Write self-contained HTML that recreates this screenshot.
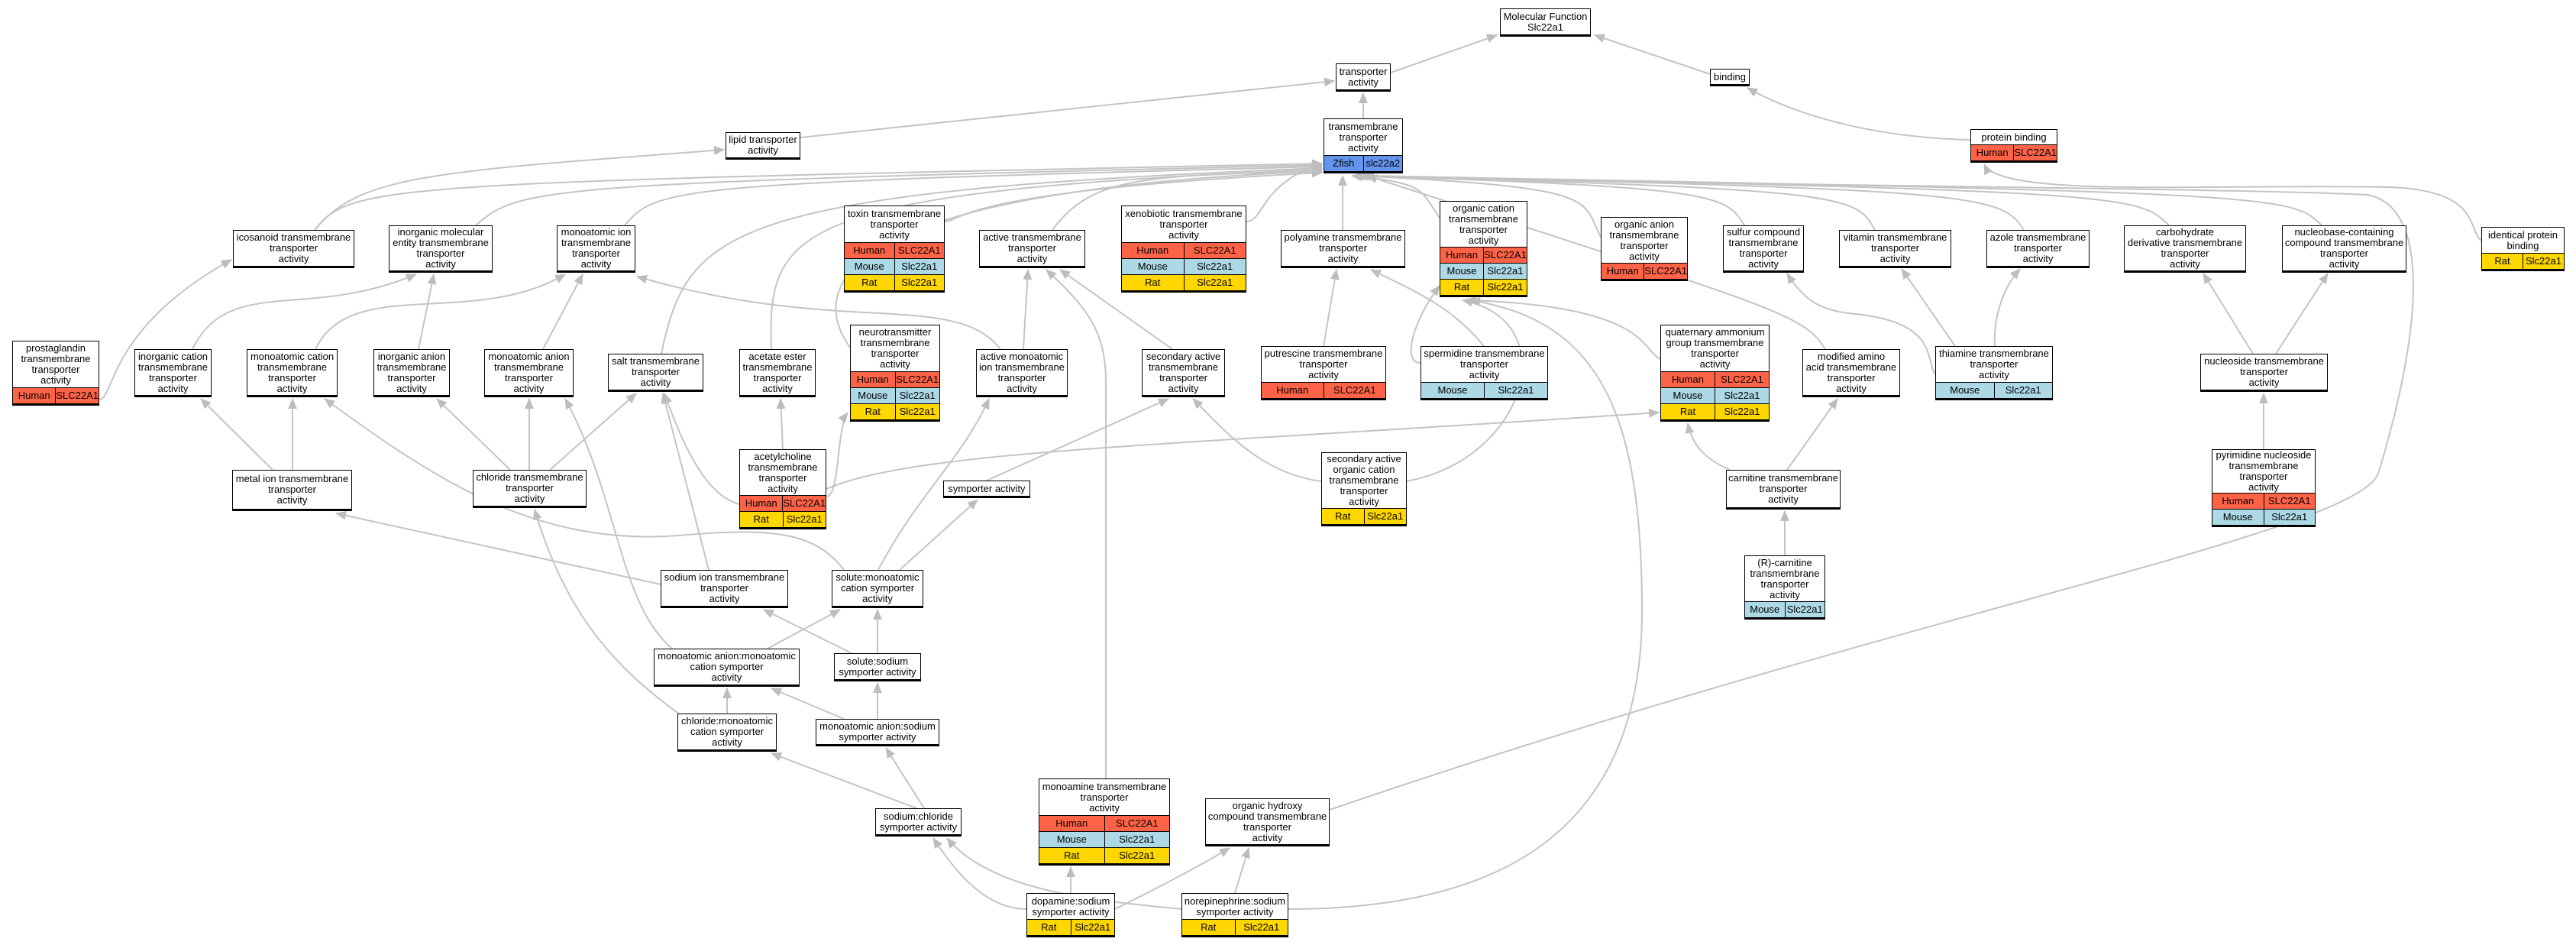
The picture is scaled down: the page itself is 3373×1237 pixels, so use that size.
<!DOCTYPE html>
<html><head><meta charset="utf-8"><style>
body{margin:0;width:3373px;height:1237px;background:#fff;position:relative;overflow:hidden;font-family:"Liberation Sans",Arial,sans-serif;}
svg{position:absolute;left:0;top:0}
.n{position:absolute;box-sizing:border-box;border:1.5px solid #000;border-bottom-width:3px;background:#fff;display:flex;flex-direction:column;font-size:13px;line-height:14px;color:#000}
.h{flex:1;display:flex;align-items:center;justify-content:center;text-align:center;padding:0 2px}
.r{height:21px;display:flex;border-top:1.5px solid #000;box-sizing:border-box}
.r span{flex:1;display:flex;align-items:center;justify-content:center}
.r span+span{border-left:1.5px solid #000}
.H{background:#ff6347}.M{background:#add8e6}.R{background:#ffd700}.Z{background:#6495ed}
</style></head><body>
<svg width="3373" height="1237" viewBox="0 0 3373 1237">
<defs><marker id="a" markerUnits="userSpaceOnUse" markerWidth="14" markerHeight="12" refX="13" refY="6" orient="auto"><path d="M0,0 L14,6 L0,12 z" fill="#bdbdbd"/></marker></defs>
<g fill="none" stroke="#c4c4c4" stroke-width="2" marker-end="url(#a)">
<path d="M1821,95 L1960,46"/>
<path d="M2239,97 L2088,46"/>
<path d="M1785,155 L1785,122"/>
<path d="M1048,180 L1747,106"/>
<path d="M2580,183 C2450,180 2350,150 2288,115"/>
<path d="M412,301 C470,230 560,225 948,196"/>
<path d="M412,301 C460,240 500,240 1731,214"/>
<path d="M623,295 C680,245 700,240 1731,216"/>
<path d="M818,295 C860,245 880,240 1731,218"/>
<path d="M866,463 C900,300 950,250 1731,220"/>
<path d="M1010,457 C1005,300 1030,250 1731,222"/>
<path d="M1113,455 C1060,380 1080,250 1731,224"/>
<path d="M1237,290 C1260,290 1250,250 1731,226"/>
<path d="M1378,301 C1430,230 1500,230 1731,224"/>
<path d="M1632,290 C1655,290 1650,240 1731,214"/>
<path d="M1758,301 L1758,230"/>
<path d="M1885,285 C1860,250 1870,240 1770,230"/>
<path d="M2096,310 C2070,260 2100,245 1772,230"/>
<path d="M2284,295 C2260,255 2250,245 1775,230"/>
<path d="M2455,301 C2430,255 2420,248 1778,230"/>
<path d="M2650,301 C2620,255 2600,248 1780,230"/>
<path d="M2840,295 C2800,255 2790,250 1782,230"/>
<path d="M3040,295 C3000,255 2990,252 1784,230"/>
<path d="M2390,457 C2360,410 2330,405 1790,230"/>
<path d="M1741,1060 C2500,800 3080,700 3114,620 C3175,420 3180,270 3100,255 C2900,245 2000,240 1786,230"/>
<path d="M3249,315 C3230,300 3250,250 3130,245 C2900,240 2620,260 2598,215"/>
<path d="M130,523 C150,523 140,430 303,340"/>
<path d="M252,457 C300,360 400,420 545,359"/>
<path d="M413,457 C460,360 620,430 740,359"/>
<path d="M548,457 L568,359"/>
<path d="M711,457 L763,359"/>
<path d="M357,615 L263,522"/>
<path d="M383,615 L383,522"/>
<path d="M668,615 L572,522"/>
<path d="M693,615 L693,522"/>
<path d="M720,615 L833,515"/>
<path d="M865,765 L440,672"/>
<path d="M928,746 L868,515"/>
<path d="M968,660 C930,650 900,600 870,515"/>
<path d="M1025,588 L1022,522"/>
<path d="M1082,650 C1100,650 1095,560 1110,540"/>
<path d="M1082,640 C1200,590 1500,585 2172,540"/>
<path d="M1310,457 C1250,380 1100,440 834,362"/>
<path d="M1340,457 L1346,353"/>
<path d="M1535,457 L1388,353"/>
<path d="M1150,746 C1200,650 1260,600 1295,522"/>
<path d="M1178,746 L1280,654"/>
<path d="M1105,746 C1070,700 1020,690 900,700 C700,720 560,620 425,522"/>
<path d="M1292,629 L1530,522"/>
<path d="M1448,1019 L1448,500 C1448,430 1420,400 1370,353"/>
<path d="M1733,453 L1750,353"/>
<path d="M1943,453 C1900,400 1850,380 1795,353"/>
<path d="M1860,475 C1835,475 1850,420 1885,374"/>
<path d="M1730,630 C1650,620 1600,560 1562,522"/>
<path d="M1842,630 C2000,600 2050,420 1915,393"/>
<path d="M2174,470 C2150,460 2160,400 1920,393"/>
<path d="M2265,615 C2230,600 2215,580 2210,554"/>
<path d="M2340,615 L2406,522"/>
<path d="M2337,727 L2337,669"/>
<path d="M2534,490 C2520,470 2540,420 2420,410 C2380,405 2360,390 2340,358"/>
<path d="M2612,453 C2610,420 2620,380 2645,352"/>
<path d="M2560,453 L2490,352"/>
<path d="M2950,463 L2885,358"/>
<path d="M2980,463 L3048,358"/>
<path d="M2964,590 L2964,515"/>
<path d="M1200,1058 L1010,986"/>
<path d="M1210,1058 L1160,979"/>
<path d="M952,934 L952,901"/>
<path d="M890,935 C800,870 740,800 700,667"/>
<path d="M1105,941 L1010,901"/>
<path d="M1149,941 L1149,894"/>
<path d="M1005,849 L1100,798"/>
<path d="M880,849 C810,790 810,650 740,522"/>
<path d="M1115,855 L1000,798"/>
<path d="M1149,855 L1149,798"/>
<path d="M1344,1190 C1290,1190 1250,1140 1222,1097"/>
<path d="M1402,1169 L1402,1135"/>
<path d="M1460,1190 C1500,1170 1560,1140 1610,1110"/>
<path d="M1547,1190 C1450,1180 1300,1170 1240,1097"/>
<path d="M1617,1169 L1635,1110"/>
<path d="M1687,1190 C1950,1190 2150,1100 2150,800 C2150,550 2100,420 1925,393"/>
</g>
</svg>

<div class="n" style="left:1964px;top:11px;width:119px;height:37px"><div class="h">Molecular Function<br>Slc22a1</div></div>
<div class="n" style="left:1749px;top:83px;width:72px;height:37px"><div class="h">transporter<br>activity</div></div>
<div class="n" style="left:2239px;top:90px;width:52px;height:23px"><div class="h">binding</div></div>
<div class="n" style="left:1733px;top:155px;width:104px;height:72px"><div class="h">transmembrane<br>transporter<br>activity</div><div class="r Z"><span>Zfish</span><span>slc22a2</span></div></div>
<div class="n" style="left:950px;top:173px;width:98px;height:36px"><div class="h">lipid transporter<br>activity</div></div>
<div class="n" style="left:2580px;top:169px;width:114px;height:44px"><div class="h">protein binding</div><div class="r H"><span>Human</span><span>SLC22A1</span></div></div>
<div class="n" style="left:305px;top:301px;width:159px;height:50px"><div class="h">icosanoid transmembrane<br>transporter<br>activity</div></div>
<div class="n" style="left:509px;top:295px;width:136px;height:62px"><div class="h">inorganic molecular<br>entity transmembrane<br>transporter<br>activity</div></div>
<div class="n" style="left:729px;top:295px;width:103px;height:62px"><div class="h">monoatomic ion<br>transmembrane<br>transporter<br>activity</div></div>
<div class="n" style="left:1105px;top:269px;width:132px;height:114px"><div class="h">toxin transmembrane<br>transporter<br>activity</div><div class="r H"><span>Human</span><span>SLC22A1</span></div><div class="r M"><span>Mouse</span><span>Slc22a1</span></div><div class="r R"><span>Rat</span><span>Slc22a1</span></div></div>
<div class="n" style="left:1282px;top:301px;width:139px;height:50px"><div class="h">active transmembrane<br>transporter<br>activity</div></div>
<div class="n" style="left:1468px;top:269px;width:164px;height:114px"><div class="h">xenobiotic transmembrane<br>transporter<br>activity</div><div class="r H"><span>Human</span><span>SLC22A1</span></div><div class="r M"><span>Mouse</span><span>Slc22a1</span></div><div class="r R"><span>Rat</span><span>Slc22a1</span></div></div>
<div class="n" style="left:1677px;top:301px;width:163px;height:50px"><div class="h">polyamine transmembrane<br>transporter<br>activity</div></div>
<div class="n" style="left:1885px;top:263px;width:115px;height:126px"><div class="h">organic cation<br>transmembrane<br>transporter<br>activity</div><div class="r H"><span>Human</span><span>SLC22A1</span></div><div class="r M"><span>Mouse</span><span>Slc22a1</span></div><div class="r R"><span>Rat</span><span>Slc22a1</span></div></div>
<div class="n" style="left:2096px;top:284px;width:114px;height:84px"><div class="h">organic anion<br>transmembrane<br>transporter<br>activity</div><div class="r H"><span>Human</span><span>SLC22A1</span></div></div>
<div class="n" style="left:2256px;top:295px;width:106px;height:62px"><div class="h">sulfur compound<br>transmembrane<br>transporter<br>activity</div></div>
<div class="n" style="left:2408px;top:301px;width:147px;height:50px"><div class="h">vitamin transmembrane<br>transporter<br>activity</div></div>
<div class="n" style="left:2601px;top:301px;width:135px;height:50px"><div class="h">azole transmembrane<br>transporter<br>activity</div></div>
<div class="n" style="left:2781px;top:295px;width:160px;height:62px"><div class="h">carbohydrate<br>derivative transmembrane<br>transporter<br>activity</div></div>
<div class="n" style="left:2988px;top:295px;width:163px;height:62px"><div class="h">nucleobase-containing<br>compound transmembrane<br>transporter<br>activity</div></div>
<div class="n" style="left:3249px;top:297px;width:109px;height:58px"><div class="h">identical protein<br>binding</div><div class="r R"><span>Rat</span><span>Slc22a1</span></div></div>
<div class="n" style="left:16px;top:446px;width:114px;height:85px"><div class="h">prostaglandin<br>transmembrane<br>transporter<br>activity</div><div class="r H"><span>Human</span><span>SLC22A1</span></div></div>
<div class="n" style="left:176px;top:457px;width:101px;height:63px"><div class="h">inorganic cation<br>transmembrane<br>transporter<br>activity</div></div>
<div class="n" style="left:323px;top:457px;width:119px;height:63px"><div class="h">monoatomic cation<br>transmembrane<br>transporter<br>activity</div></div>
<div class="n" style="left:489px;top:457px;width:100px;height:63px"><div class="h">inorganic anion<br>transmembrane<br>transporter<br>activity</div></div>
<div class="n" style="left:634px;top:457px;width:117px;height:63px"><div class="h">monoatomic anion<br>transmembrane<br>transporter<br>activity</div></div>
<div class="n" style="left:796px;top:463px;width:125px;height:50px"><div class="h">salt transmembrane<br>transporter<br>activity</div></div>
<div class="n" style="left:968px;top:457px;width:100px;height:63px"><div class="h">acetate ester<br>transmembrane<br>transporter<br>activity</div></div>
<div class="n" style="left:1113px;top:425px;width:118px;height:127px"><div class="h">neurotransmitter<br>transmembrane<br>transporter<br>activity</div><div class="r H"><span>Human</span><span>SLC22A1</span></div><div class="r M"><span>Mouse</span><span>Slc22a1</span></div><div class="r R"><span>Rat</span><span>Slc22a1</span></div></div>
<div class="n" style="left:1278px;top:457px;width:120px;height:63px"><div class="h">active monoatomic<br>ion transmembrane<br>transporter<br>activity</div></div>
<div class="n" style="left:1495px;top:457px;width:109px;height:63px"><div class="h">secondary active<br>transmembrane<br>transporter<br>activity</div></div>
<div class="n" style="left:1651px;top:453px;width:164px;height:71px"><div class="h">putrescine transmembrane<br>transporter<br>activity</div><div class="r H"><span>Human</span><span>SLC22A1</span></div></div>
<div class="n" style="left:1860px;top:453px;width:167px;height:71px"><div class="h">spermidine transmembrane<br>transporter<br>activity</div><div class="r M"><span>Mouse</span><span>Slc22a1</span></div></div>
<div class="n" style="left:2174px;top:425px;width:143px;height:127px"><div class="h">quaternary ammonium<br>group transmembrane<br>transporter<br>activity</div><div class="r H"><span>Human</span><span>SLC22A1</span></div><div class="r M"><span>Mouse</span><span>Slc22a1</span></div><div class="r R"><span>Rat</span><span>Slc22a1</span></div></div>
<div class="n" style="left:2360px;top:457px;width:128px;height:63px"><div class="h">modified amino<br>acid transmembrane<br>transporter<br>activity</div></div>
<div class="n" style="left:2534px;top:453px;width:154px;height:71px"><div class="h">thiamine transmembrane<br>transporter<br>activity</div><div class="r M"><span>Mouse</span><span>Slc22a1</span></div></div>
<div class="n" style="left:2881px;top:463px;width:167px;height:50px"><div class="h">nucleoside transmembrane<br>transporter<br>activity</div></div>
<div class="n" style="left:968px;top:588px;width:114px;height:105px"><div class="h">acetylcholine<br>transmembrane<br>transporter<br>activity</div><div class="r H"><span>Human</span><span>SLC22A1</span></div><div class="r R"><span>Rat</span><span>Slc22a1</span></div></div>
<div class="n" style="left:1730px;top:592px;width:112px;height:97px"><div class="h">secondary active<br>organic cation<br>transmembrane<br>transporter<br>activity</div><div class="r R"><span>Rat</span><span>Slc22a1</span></div></div>
<div class="n" style="left:304px;top:615px;width:157px;height:54px"><div class="h">metal ion transmembrane<br>transporter<br>activity</div></div>
<div class="n" style="left:619px;top:615px;width:149px;height:50px"><div class="h">chloride transmembrane<br>transporter<br>activity</div></div>
<div class="n" style="left:1235px;top:629px;width:114px;height:23px"><div class="h">symporter activity</div></div>
<div class="n" style="left:2896px;top:588px;width:136px;height:102px"><div class="h">pyrimidine nucleoside<br>transmembrane<br>transporter<br>activity</div><div class="r H"><span>Human</span><span>SLC22A1</span></div><div class="r M"><span>Mouse</span><span>Slc22a1</span></div></div>
<div class="n" style="left:2260px;top:615px;width:150px;height:52px"><div class="h">carnitine transmembrane<br>transporter<br>activity</div></div>
<div class="n" style="left:2284px;top:727px;width:106px;height:84px"><div class="h">(R)-carnitine<br>transmembrane<br>transporter<br>activity</div><div class="r M"><span>Mouse</span><span>Slc22a1</span></div></div>
<div class="n" style="left:865px;top:746px;width:167px;height:50px"><div class="h">sodium ion transmembrane<br>transporter<br>activity</div></div>
<div class="n" style="left:1089px;top:746px;width:120px;height:50px"><div class="h">solute:monoatomic<br>cation symporter<br>activity</div></div>
<div class="n" style="left:856px;top:849px;width:191px;height:50px"><div class="h">monoatomic anion:monoatomic<br>cation symporter<br>activity</div></div>
<div class="n" style="left:1092px;top:855px;width:114px;height:37px"><div class="h">solute:sodium<br>symporter activity</div></div>
<div class="n" style="left:887px;top:934px;width:130px;height:50px"><div class="h">chloride:monoatomic<br>cation symporter<br>activity</div></div>
<div class="n" style="left:1068px;top:941px;width:162px;height:36px"><div class="h">monoatomic anion:sodium<br>symporter activity</div></div>
<div class="n" style="left:1146px;top:1058px;width:113px;height:37px"><div class="h">sodium:chloride<br>symporter activity</div></div>
<div class="n" style="left:1360px;top:1019px;width:172px;height:114px"><div class="h">monoamine transmembrane<br>transporter<br>activity</div><div class="r H"><span>Human</span><span>SLC22A1</span></div><div class="r M"><span>Mouse</span><span>Slc22a1</span></div><div class="r R"><span>Rat</span><span>Slc22a1</span></div></div>
<div class="n" style="left:1578px;top:1045px;width:163px;height:63px"><div class="h">organic hydroxy<br>compound transmembrane<br>transporter<br>activity</div></div>
<div class="n" style="left:1344px;top:1169px;width:116px;height:58px"><div class="h">dopamine:sodium<br>symporter activity</div><div class="r R"><span>Rat</span><span>Slc22a1</span></div></div>
<div class="n" style="left:1547px;top:1169px;width:140px;height:58px"><div class="h">norepinephrine:sodium<br>symporter activity</div><div class="r R"><span>Rat</span><span>Slc22a1</span></div></div>
</body></html>
